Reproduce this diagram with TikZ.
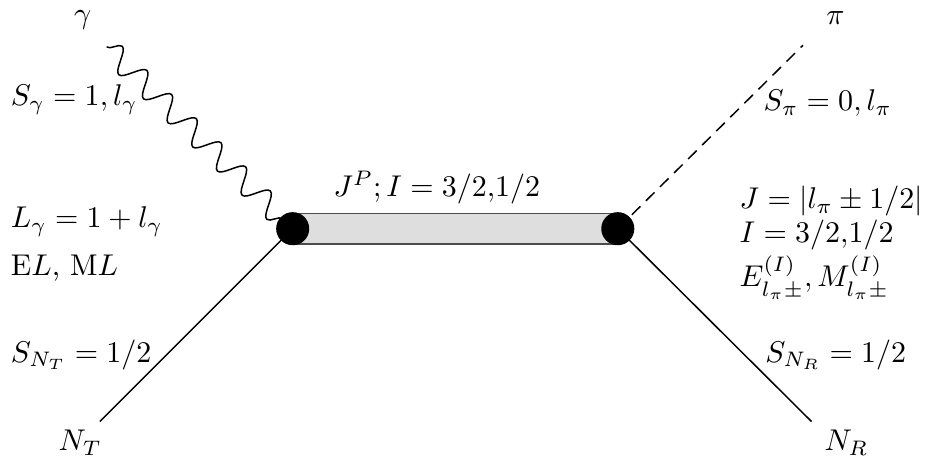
\documentclass[tikz,border=0pt]{standalone}
\usepackage{tikz}
\usetikzlibrary{
  calc,
  decorations.pathmorphing,
  positioning
}
\tikzset{
  blob/.style={circle,fill=black,draw=black,minimum size=0.37cm,inner sep=0pt},
  photon/.style={decorate,decoration={snake,amplitude=3.8pt,segment length=11.5pt}},
  pion/.style={dash pattern=on 4pt off 2.6pt},
  lab/.style={anchor=west,inner sep=0pt}
}

\begin{document}
\begin{tikzpicture}[line width=0.5pt]
                  \useasboundingbox (0, 0) rectangle (10.84, -5.45);
                  \coordinate (vL) at (3.43, -2.68);
                  \coordinate (vR) at (7.24, -2.68);
                  \coordinate (gam) at (1.25, -0.55);
                  \coordinate (pi) at (9.41, -0.53);
                  \coordinate (NT) at (1.17, -4.94);
                  \coordinate (NR) at (9.51, -4.94);

                  % external legs
                  \draw[photon] (gam) -- (vL);
                  \draw[pion] (vR) -- (pi);
                  \draw (NT) -- (vL);
                  \draw (vR) -- (NR);

                  % resonance
                  \draw[draw=black!70,fill=black!13] ($(vL)+(0, 0.18)$) rectangle ($(vR)+(0, -0.18)$);
                  \node[blob] (bL) at (vL) {};
                  \node[blob] (bR) at (vR) {};

                  \node (lgam) at (0.97, -0.23) {$\gamma$};
                  \node (lpi) at (9.79, -0.21) {$\pi$};
                  \node (lNT) at (0.94, -5.19) {$N_T$};
                  \node (lNR) at (9.92, -5.19) {$N_R$};
                  \node (res) at (5.12, -2.20) {$J^P; I = 3/2{,}1/2$};

                  \node[lab] (Sg) at (0.12, -1.17) {$S_\gamma = 1, l_\gamma$};
                  \node[lab] (Lg) at (0.12, -2.60) {$L_\gamma = 1 + l_\gamma$};
                  \node[lab] (EM) at (0.12, -3.14) {E$L$, M$L$};
                  \node[lab] (SNT) at (0.12, -4.16) {$S_{N_T} = 1/2$};

                  \node[lab] (Spi) at (8.94, -1.21) {$S_\pi = 0, l_\pi$};
                  \node[lab] (J) at (8.66, -2.36) {$J = |l_\pi \pm 1/2|$};
                  \node[lab] (I) at (8.66, -2.75) {$I = 3/2{,}1/2$};
                  \node[lab] (EMI) at (8.66, -3.25) {$E^{(I)}_{l_\pi\pm}, M^{(I)}_{l_\pi\pm}$};
                  \node[lab] (SNR) at (8.96, -4.16) {$S_{N_R} = 1/2$};
                \end{tikzpicture}
\end{document}
